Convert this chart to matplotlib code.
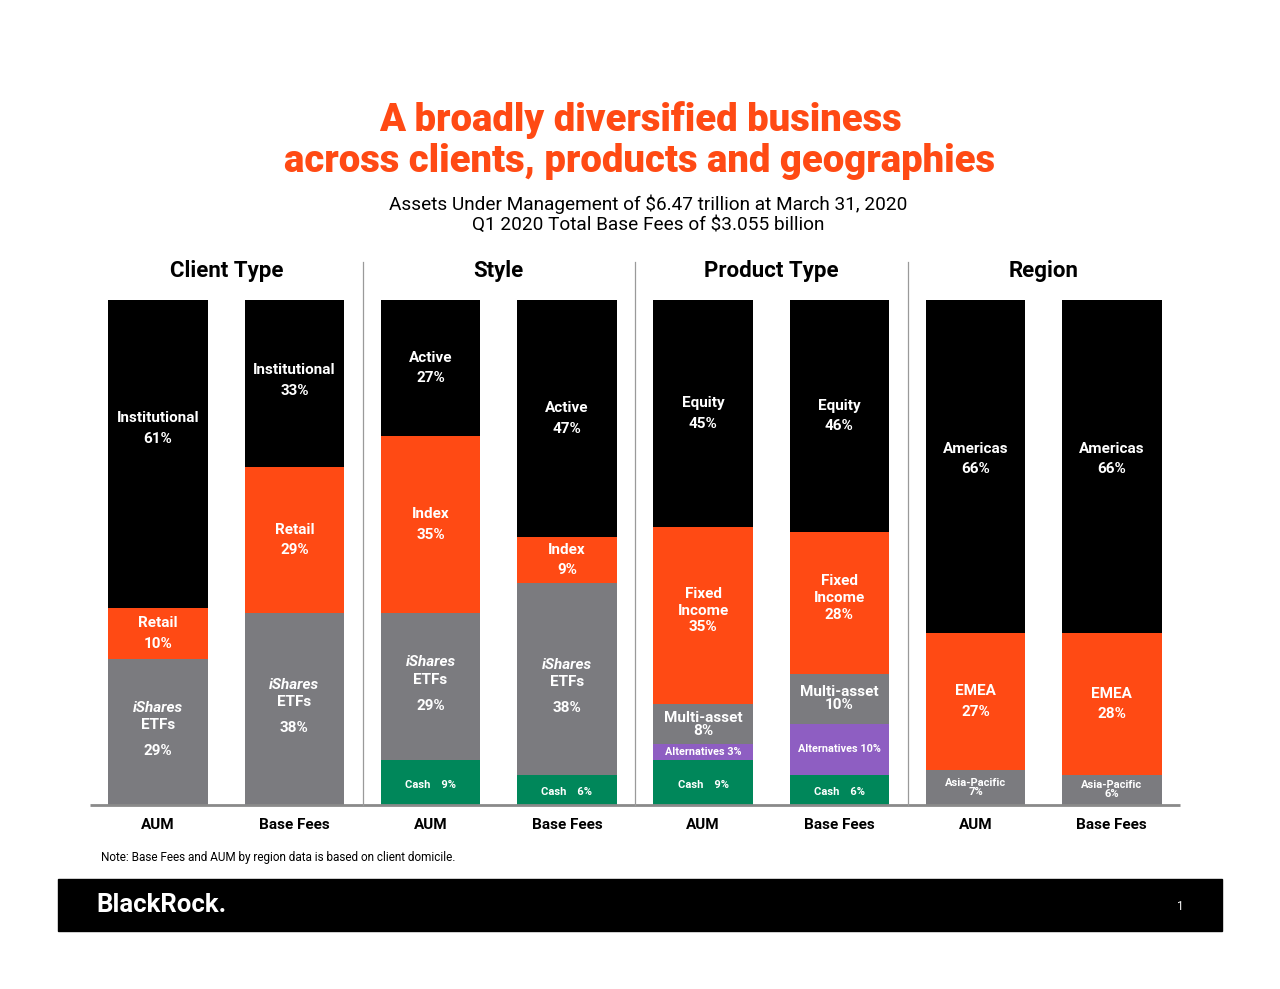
import matplotlib.pyplot as plt

# Data (bottom -> top for every bar)
client_names = ['iShares ETFs', 'Retail', 'Institutional']
client_aum = [29, 10, 61]
client_fees = [38, 29, 33]

style_names = ['Cash', 'iShares ETFs', 'Index', 'Active']
style_aum = [9, 29, 35, 27]
style_fees = [6, 38, 9, 47]

product_names = ['Cash', 'Alternatives', 'Multi-asset', 'Fixed Income', 'Equity']
product_aum = [9, 3, 8, 35, 45]
product_fees = [6, 10, 10, 28, 46]

region_names = ['Asia-Pacific', 'EMEA', 'Americas']
region_aum = [7, 27, 66]
region_fees = [6, 28, 66]

group_titles = ['Client Type', 'Style', 'Product Type', 'Region']
bar_labels = ['AUM', 'Base Fees'] * 4

BLACK = '#000000'
ORANGE = '#FF4A14'
GRAY = '#7B7B7F'
GREEN = '#00875A'
PURPLE = '#8E5EC2'
colors = {
    'Institutional': BLACK, 'Active': BLACK, 'Equity': BLACK, 'Americas': BLACK,
    'Retail': ORANGE, 'Index': ORANGE, 'Fixed Income': ORANGE, 'EMEA': ORANGE,
    'iShares ETFs': GRAY, 'Multi-asset': GRAY, 'Asia-Pacific': GRAY,
    'Cash': GREEN, 'Alternatives': PURPLE,
}

# small nudges of the in-bar labels (bar index, segment) -> shift in % units
nudge = {(0, 'Institutional'): 5, (6, 'Americas'): 1.5, (7, 'Americas'): 1.5,
         (3, 'iShares ETFs'): -2, (1, 'Institutional'): 0.5}

plt.rcParams['font.family'] = ['Roboto', 'DejaVu Sans']

W, H = 1280, 989
fig = plt.figure(figsize=(W / 100, H / 100), dpi=100)


def fx(px):
    return px / W


def fy(py):
    return 1 - py / H


# chart axes: x 90..1180 px, y 300..805 px
ax = fig.add_axes([fx(90), fy(805), fx(1180) - fx(90), fy(300) - fy(805)])
ax.set_xlim(-0.5, 7.5)
ax.set_ylim(0, 100)
ax.axis('off')

bars = [
    (client_names, client_aum), (client_names, client_fees),
    (style_names, style_aum), (style_names, style_fees),
    (product_names, product_aum), (product_names, product_fees),
    (region_names, region_aum), (region_names, region_fees),
]

width = 0.73
fs = 11
txt = dict(color='white', ha='center', va='center', fontweight='bold')

for i, (names, vals) in enumerate(bars):
    bottom = 0
    for name, v in zip(names, vals):
        ax.bar(i, v, width, bottom=bottom, color=colors[name], linewidth=0)
        mid = bottom + v / 2 + nudge.get((i, name), 0)
        pct = f'{v}%'
        if name == 'iShares ETFs':
            ax.text(i, mid + 4.8, 'iShares', fontsize=fs, style='italic', **txt)
            ax.text(i, mid + 1.3, 'ETFs', fontsize=fs, **txt)
            ax.text(i, mid - 3.8, pct, fontsize=fs, **txt)
        elif name == 'Cash':
            ax.text(i, mid - 0.5, f'Cash    {pct}', fontsize=8, **txt)
        elif name == 'Alternatives':
            ax.text(i, mid, f'Alternatives {pct}', fontsize=7.8, **txt)
        elif name == 'Asia-Pacific':
            ax.text(i, mid, f'Asia-Pacific\n{pct}', fontsize=8, linespacing=0.9, **txt)
        elif name == 'Multi-asset':
            ax.text(i, mid, f'Multi-asset\n{pct}', fontsize=fs, linespacing=0.9, **txt)
        elif name == 'Fixed Income':
            ax.text(i, mid + 1, f'Fixed\nIncome\n{pct}', fontsize=fs, linespacing=1.25, **txt)
        else:
            ax.text(i, mid, f'{name}\n{pct}', fontsize=fs, linespacing=1.6, **txt)
        bottom += v
    ax.text(i, -3.9, bar_labels[i], ha='center', va='center', fontsize=11,
            fontweight='bold', color='black', clip_on=False)

# baseline and separators
ax.plot([-0.5, 7.5], [0, 0], color='#8A8A8A', linewidth=2, clip_on=False, solid_capstyle='butt')
for s in [1.5, 3.5, 5.5]:
    ax.plot([s, s], [0, 107.5], color='#9A9A9A', linewidth=0.9, clip_on=False)

for g, title in enumerate(group_titles):
    ax.text(2 * g + 0.5, 105.8, title, ha='center', va='center', fontsize=16,
            fontweight='bold', color='black', clip_on=False)

# titles
fig.text(fx(640), fy(120), 'A broadly diversified business', ha='center', va='center',
         fontsize=27.5, fontweight='black', color=ORANGE)
fig.text(fx(640), fy(162), 'across clients, products and geographies', ha='center', va='center',
         fontsize=27.5, fontweight='black', color=ORANGE)
fig.text(fx(648), fy(204), 'Assets Under Management of $6.47 trillion at March 31, 2020',
         ha='center', va='center', fontsize=13.7, color='black')
fig.text(fx(648), fy(225), 'Q1 2020 Total Base Fees of $3.055 billion',
         ha='center', va='center', fontsize=13.7, color='black')

fig.text(fx(101), fy(857), 'Note: Base Fees and AUM by region data is based on client domicile.',
         ha='left', va='center', fontsize=8.5, color='black')

# footer band
fig.patches.append(plt.Rectangle((fx(58), fy(931)), fx(1222) - fx(58), fy(879) - fy(931),
                                 transform=fig.transFigure, color='black', zorder=0))
fig.text(fx(96), fy(905), 'BlackRock.', ha='left', va='center', fontsize=18.5,
         fontweight='bold', color='white')
fig.text(fx(1180), fy(906), '1', ha='center', va='center', fontsize=8.5, color='white')

fig.savefig('out.png', dpi=100, facecolor='white')
